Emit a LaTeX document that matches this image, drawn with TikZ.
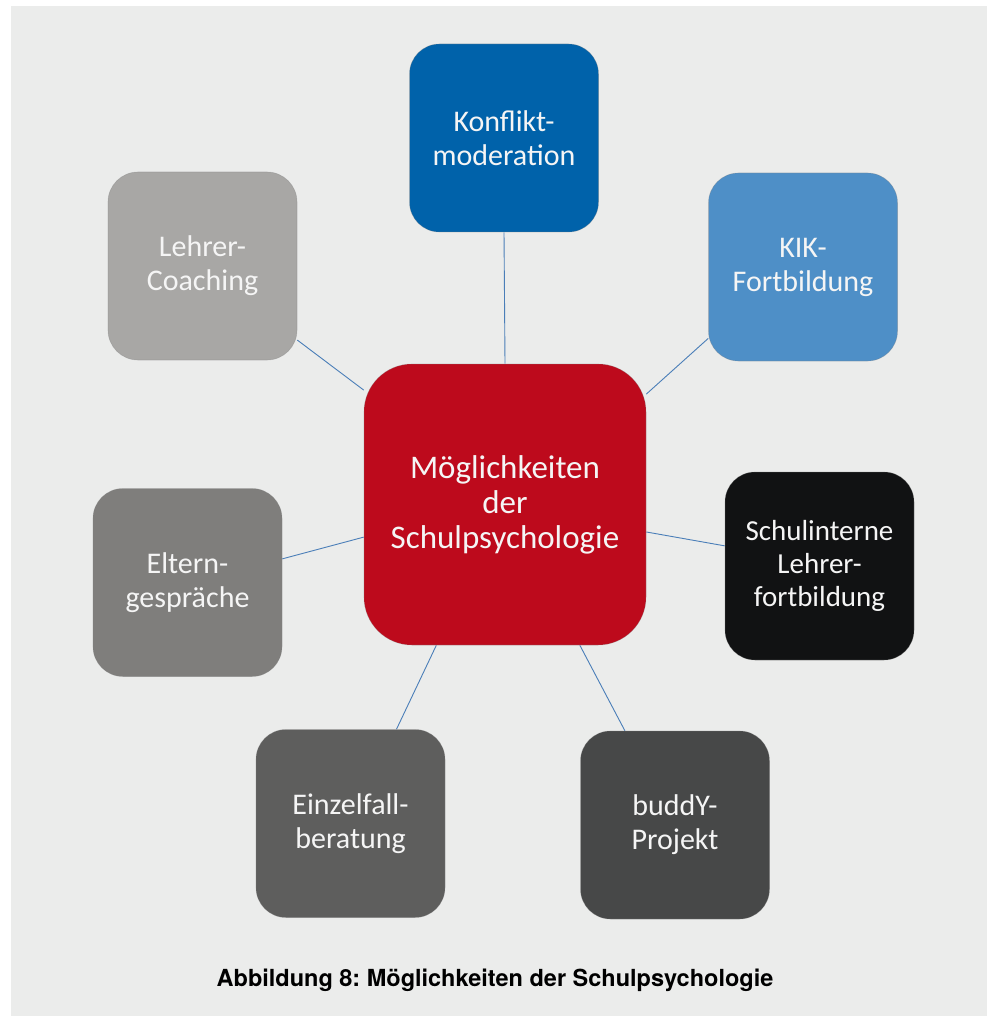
\documentclass[tikz,border=0pt]{standalone}
\usepackage{fontspec}
\setmainfont{Carlito}
\newfontfamily\capfont{TeX Gyre Heros}
\usetikzlibrary{calc}
\pgfdeclarelayer{bg}
\pgfdeclarelayer{lines}
\pgfsetlayers{bg,lines,main}
\frenchspacing

\definecolor{paper}{RGB}{235,236,235}
\definecolor{linkblue}{RGB}{74,126,184}
\definecolor{cRed}{RGB}{189,10,28}
\definecolor{cBlue}{RGB}{0,98,170}
\definecolor{cLightBlue}{RGB}{78,143,199}
\definecolor{cGrayA}{RGB}{168,167,165}
\definecolor{cGrayB}{RGB}{127,126,124}
\definecolor{cGrayC}{RGB}{94,94,93}
\definecolor{cGrayD}{RGB}{71,72,72}
\definecolor{cBlack}{RGB}{17,18,19}

\tikzset{
  tile/.style={rectangle, rounded corners=30pt, minimum width=189pt,
    minimum height=188pt, inner sep=0pt, align=center,
    text=white!96!black, font=\fontsize{30}{34}\selectfont,
    draw=black!50, draw opacity=0.35, line width=0.6pt},
  hub/.style={tile, rounded corners=48pt, minimum width=282pt,
    minimum height=281pt, font=\fontsize{33}{35}\selectfont},
  link/.style={draw=linkblue, line width=0.9pt},
}

\begin{document}
\begin{tikzpicture}[x=1pt, y=-1pt]
  \useasboundingbox (0,0) rectangle (987,1016);
  \begin{pgfonlayer}{bg}
    \fill[white] (0,0) rectangle (987,1016);
    \fill[paper] (11,6) rectangle (987,1016);
  \end{pgfonlayer}

  % central topic
  \node[hub, fill=cRed] (hub) at (505,504.5) {Möglichkeiten\\der\\Schulpsychologie};

  % surrounding topics
  \node[tile, fill=cBlue]      (konf)  at (504,138)   {Konflikt-\\moderation};
  \node[tile, fill=cLightBlue] (kik)   at (803,267)   {KIK-\\Fortbildung};
  \node[tile, fill=cGrayA]     (coach) at (202.5,266) {Lehrer-\\Coaching};
  \node[tile, fill=cBlack, font=\fontsize{29}{33}\selectfont]
                               (intern) at (819.5,566) {Schulinterne\\Lehrer-\\fortbildung};
  \node[tile, fill=cGrayB]     (eltern) at (187.5,582.5) {Eltern-\\gespräche};
  \node[tile, fill=cGrayC]     (einzel) at (350.5,823.5) {Einzelfall-\\beratung};
  \node[tile, fill=cGrayD]     (buddy) at (675,825)   {buddY-\\Projekt};

  % connectors, kept below the tiles
  \begin{pgfonlayer}{lines}
    \draw[link] (hub.north) -- (konf.south);
    \draw[link] (hub.38.6)  -- (kik.217.8);
    \draw[link] (hub.141.7) -- (coach.-38);
    \draw[link] (hub.-11)   -- (intern.168.6);
    \draw[link] (hub.193.4) -- (eltern.14);
    \draw[link] (hub.244.2) -- (einzel.64.3);
    \draw[link] (hub.-62.2) -- (buddy.118);
  \end{pgfonlayer}

  % caption
  \node[anchor=base, font=\capfont\bfseries\fontsize{23.5}{27}\selectfont, text=black]
    (caption) at (495,986) {Abbildung 8: Möglichkeiten der Schulpsychologie};
\end{tikzpicture}
\end{document}
